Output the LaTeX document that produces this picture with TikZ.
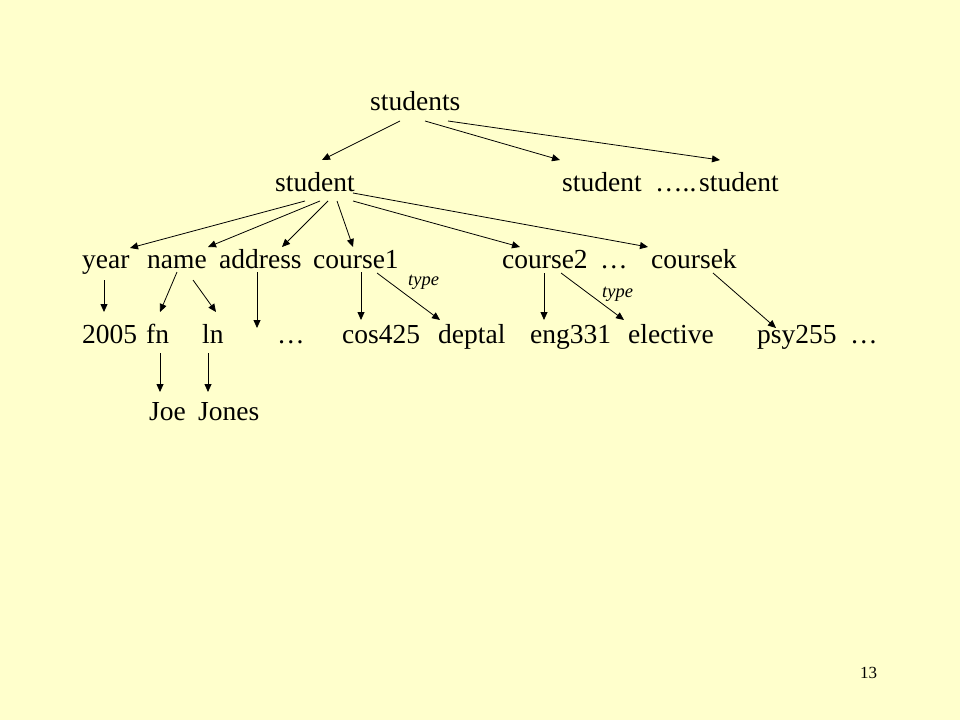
\documentclass[tikz,border=0pt]{standalone}
\usepackage{fontspec}
\setmainfont{Liberation Serif}
\usetikzlibrary{arrows.meta}
\definecolor{slidebg}{HTML}{FFFFCC}
\tikzset{
  lbl/.style={inner sep=0pt, anchor=base west, font=\fontsize{27.5}{30}\selectfont},
  typelbl/.style={inner sep=0pt, anchor=base west, font=\fontsize{18.5}{20}\selectfont\itshape},
  edge/.style={-{Triangle[length=8pt,width=7pt]}, line width=0.8pt}
}
\begin{document}
\begin{tikzpicture}[x=1pt,y=-1pt]
\fill[slidebg] (0,0) rectangle (960,720);
\useasboundingbox (0,0) rectangle (960,720);
% top levels
\node[lbl] (students) at (370,110) {students};
\node[lbl] (stuA) at (275,191) {student};
\node[lbl] (stuB) at (562,191) {student};
\node[lbl] (dotsA) at (655,191) {…..};
\node[lbl] (stuC) at (699,191) {student};
% fields
\node[lbl] (year) at (82,268) {year};
\node[lbl] (name) at (147,268) {name};
\node[lbl] (address) at (219,268) {address};
\node[lbl] (courseA) at (313,268) {course1};
\node[lbl] (courseB) at (502,268) {course2};
\node[lbl] (dotsB) at (600,268) {…};
\node[lbl] (courseK) at (651,268) {coursek};
% values
\node[lbl] (y2005) at (82,343) {2005};
\node[lbl] (fn) at (146,343) {fn};
\node[lbl] (ln) at (202,343) {ln};
\node[lbl] (dotsC) at (277,343) {…};
\node[lbl] (cos) at (342,343) {cos425};
\node[lbl] (deptA) at (438,343) {deptal};
\node[lbl] (eng) at (530,343) {eng331};
\node[lbl] (elective) at (628,343) {elective};
\node[lbl] (psy) at (757,343) {psy255};
\node[lbl] (dotsD) at (850,343) {…};
\node[lbl] (joe) at (149,420) {Joe};
\node[lbl] (jones) at (198,420) {Jones};
\node[typelbl] (typeA) at (408,285) {type};
\node[typelbl] (typeB) at (602,297) {type};
\node[inner sep=0pt, anchor=base west, font=\fontsize{17}{19}\selectfont] (page) at (860,678) {13};
% arrows
\draw[edge] ([shift={(30,11)}]students.base west) -- ([shift={(47,-31)}]stuA.base west);
\draw[edge] ([shift={(55,11)}]students.base west) -- ([shift={(-2,-31)}]stuB.base west);
\draw[edge] ([shift={(78,11)}]students.base west) -- ([shift={(21,-31)}]stuC.base west);
\draw[edge] ([shift={(30,10)}]stuA.base west) -- ([shift={(48,-20)}]year.base west);
\draw[edge] ([shift={(45,10)}]stuA.base west) -- ([shift={(61,-21)}]name.base west);
\draw[edge] ([shift={(53,10)}]stuA.base west) -- ([shift={(63,-21)}]address.base west);
\draw[edge] ([shift={(62,10)}]stuA.base west) -- ([shift={(40,-21)}]courseA.base west);
\draw[edge] ([shift={(78,10)}]stuA.base west) -- ([shift={(18,-21)}]courseB.base west);
\draw[edge] ([shift={(78,2)}]stuA.base west) -- ([shift={(-3,-21)}]courseK.base west);
\draw[edge] ([shift={(22,12)}]year.base west) -- ([shift={(22,-31)}]y2005.base west);
\draw[edge] ([shift={(30,4)}]name.base west) -- ([shift={(14,-31)}]fn.base west);
\draw[edge] ([shift={(46,12)}]name.base west) -- ([shift={(14,-31)}]ln.base west);
\draw[edge] ([shift={(38,4)}]address.base west) -- ([shift={(-20,-15)}]dotsC.base west);
\draw[edge] ([shift={(48,4)}]courseA.base west) -- ([shift={(19,-23)}]cos.base west);
\draw[edge] ([shift={(64,5)}]courseA.base west) -- ([shift={(2,-23)}]deptA.base west);
\draw[edge] ([shift={(42,5)}]courseB.base west) -- ([shift={(14,-23)}]eng.base west);
\draw[edge] ([shift={(59,5)}]courseB.base west) -- ([shift={(-4,-23)}]elective.base west);
\draw[edge] ([shift={(62,5)}]courseK.base west) -- ([shift={(19,-15)}]psy.base west);
\draw[edge] ([shift={(14,10)}]fn.base west) -- ([shift={(11,-28)}]joe.base west);
\draw[edge] ([shift={(6,10)}]ln.base west) -- ([shift={(10,-28)}]jones.base west);
\end{tikzpicture}
\end{document}
